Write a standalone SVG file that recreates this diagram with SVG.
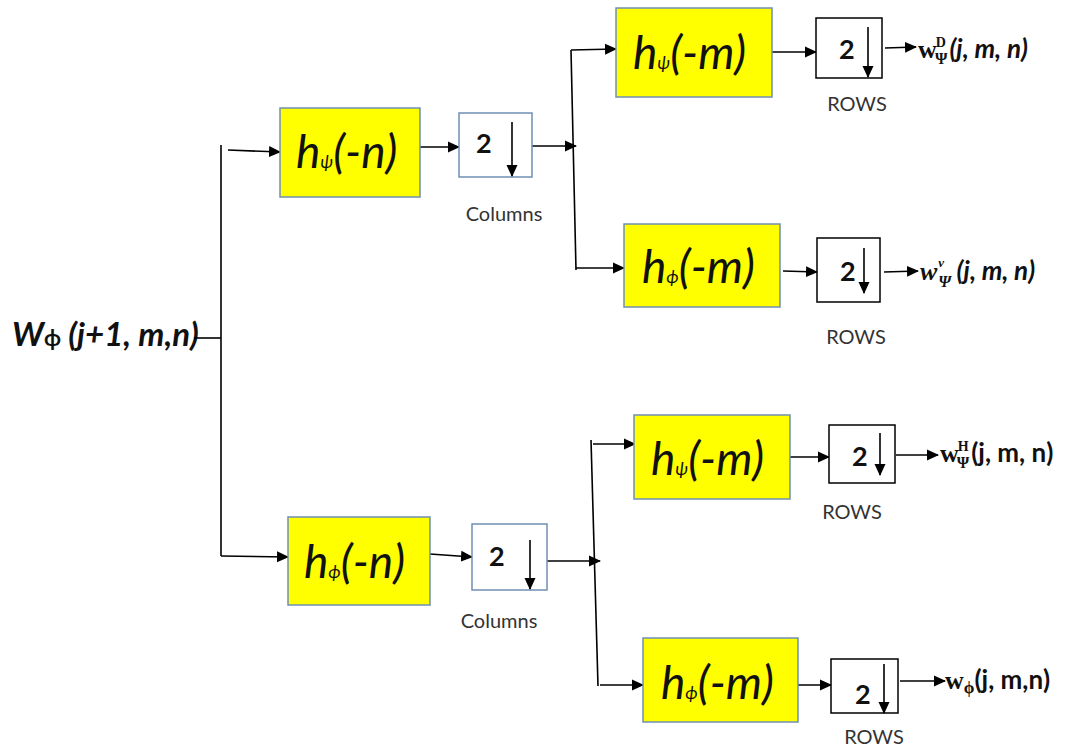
<svg xmlns="http://www.w3.org/2000/svg" width="1067" height="749" viewBox="0 0 1067 749">
<defs>
<marker id="ah" markerUnits="userSpaceOnUse" markerWidth="12" markerHeight="12" viewBox="0 0 12 12" refX="11" refY="6" orient="auto">
<path d="M0,0.5 L12,6 L0,11.5 Z" fill="#000"/>
</marker>
<style>
.filt{fill:#ffff00;stroke:#6f8fb3;stroke-width:1.5}
.colb{fill:#fff;stroke:#6f8fb3;stroke-width:1.5}
.rowb{fill:#fff;stroke:#000;stroke-width:1.5}
.ln{fill:none;stroke:#000;stroke-width:1.6}
.ar{fill:none;stroke:#000;stroke-width:1.6;marker-end:url(#ah)}
.ft{font-family:Lato,"Liberation Sans",sans-serif;font-style:italic;font-size:46px;fill:#111}
.sub{font-size:18px}
.two{font-family:Lato,"Liberation Sans",sans-serif;font-weight:bold;font-size:27px;fill:#111}
.lab{font-family:Lato,"Liberation Sans",sans-serif;font-size:20px;fill:#333;text-anchor:middle}
.out{font-family:Lato,"Liberation Sans",sans-serif;font-weight:bold;font-style:italic;font-size:26px;fill:#111}
.up{font-style:normal}
.ser{font-family:"Liberation Serif",serif;font-weight:bold;font-style:normal}
.seri{font-family:"Liberation Serif",serif;font-weight:bold;font-style:italic}
</style>
</defs>

<g id="input">
<text x="12" y="346" font-family="Lato,'Liberation Sans',sans-serif" font-weight="bold" font-style="italic" font-size="33" fill="#111">W<tspan font-size="22" font-style="normal">ϕ</tspan><tspan> (j+1, m,n)</tspan></text>
</g>

<g id="connectors">
<line class="ln" x1="194" y1="338" x2="221" y2="338"/>
<line class="ln" x1="221" y1="145" x2="221" y2="556"/>
<line class="ar" x1="228" y1="150" x2="280" y2="152"/>
<line class="ar" x1="221" y1="556" x2="288" y2="557"/>
<line class="ar" x1="420" y1="147" x2="459" y2="147"/>
<line class="ar" x1="532" y1="146" x2="576" y2="146"/>
<line class="ln" x1="571" y1="50" x2="576" y2="270"/>
<line class="ar" x1="571" y1="50" x2="616" y2="49"/>
<line class="ar" x1="576" y1="268" x2="624" y2="268"/>
<line class="ar" x1="772" y1="52" x2="816" y2="52"/>
<line class="ar" x1="885" y1="48" x2="916" y2="47"/>
<line class="ar" x1="783" y1="271" x2="817" y2="272"/>
<line class="ar" x1="884" y1="272" x2="918" y2="271"/>
<line class="ar" x1="430" y1="554" x2="472" y2="557"/>
<line class="ar" x1="547" y1="561" x2="600" y2="561"/>
<line class="ln" x1="591" y1="440" x2="598" y2="686"/>
<line class="ar" x1="593" y1="444" x2="635" y2="444"/>
<line class="ar" x1="600" y1="685" x2="643" y2="685"/>
<line class="ar" x1="790" y1="457" x2="829" y2="457"/>
<line class="ar" x1="896" y1="455" x2="938" y2="455"/>
<line class="ar" x1="797" y1="685" x2="831" y2="685"/>
<line class="ar" x1="900" y1="681" x2="945" y2="681"/>
</g>

<g id="h_psi_n">
<rect class="filt" x="280" y="108" width="140" height="89"/>
<text class="ft" x="296" y="168">h<tspan class="sub">ψ</tspan>(-n)</text>
</g>
<g id="col_top">
<rect class="colb" x="459" y="113" width="73" height="64"/>
<text class="two" x="476" y="153">2</text>
<line class="ar" x1="512" y1="122" x2="512" y2="176"/>
<text class="lab" x="504" y="221">Columns</text>
</g>

<g id="h_psi_m_top">
<rect class="filt" x="616" y="8" width="156" height="89"/>
<text class="ft" x="633" y="69">h<tspan class="sub">ψ</tspan>(-m)</text>
</g>
<g id="rows_D">
<rect class="rowb" x="816" y="18" width="66" height="60"/>
<text class="two" x="839" y="59">2</text>
<line class="ar" x1="868" y1="27" x2="868" y2="77"/>
<text class="lab" x="857" y="111">ROWS</text>
</g>
<g id="out_D">
<text class="out" x="918" y="58"><tspan class="ser">w</tspan><tspan class="ser" font-size="14" dx="-1" dy="-11">D</tspan><tspan class="ser" font-size="16" dx="-11" dy="17">Ψ</tspan><tspan dx="2" dy="-6">(j, m, n)</tspan></text>
</g>

<g id="h_phi_m_top">
<rect class="filt" x="624" y="224" width="156" height="83"/>
<text class="ft" x="642" y="283">h<tspan class="sub">ϕ</tspan>(-m)</text>
</g>
<g id="rows_V">
<rect class="rowb" x="817" y="238" width="63" height="64"/>
<text class="two" x="840" y="281">2</text>
<line class="ar" x1="864" y1="248" x2="864" y2="293"/>
<text class="lab" x="856" y="344">ROWS</text>
</g>
<g id="out_V">
<text class="out" x="920" y="280"><tspan class="seri">w</tspan><tspan class="seri" font-size="13" dx="1" dy="-13">v</tspan><tspan class="seri" font-size="16" dx="-6" dy="20">Ψ</tspan><tspan dy="-7"> (j, m, n)</tspan></text>
</g>

<g id="h_phi_n">
<rect class="filt" x="288" y="517" width="142" height="88"/>
<text class="ft" x="304" y="578">h<tspan class="sub">ϕ</tspan>(-n)</text>
</g>
<g id="col_bot">
<rect class="colb" x="472" y="524" width="75" height="66"/>
<text class="two" x="489" y="566">2</text>
<line class="ar" x1="530" y1="540" x2="530" y2="589"/>
<text class="lab" x="499" y="628">Columns</text>
</g>

<g id="h_psi_m_bot">
<rect class="filt" x="634" y="415" width="156" height="84"/>
<text class="ft" x="651" y="475">h<tspan class="sub">ψ</tspan>(-m)</text>
</g>
<g id="rows_H">
<rect class="rowb" x="829" y="425" width="66" height="58"/>
<text class="two" x="852" y="466">2</text>
<line class="ar" x1="880" y1="433" x2="880" y2="475"/>
<text class="lab" x="852" y="519">ROWS</text>
</g>
<g id="out_H">
<text class="out up" x="940" y="462"><tspan class="ser">w</tspan><tspan class="ser" font-size="14" dx="-1" dy="-11">H</tspan><tspan class="ser" font-size="16" dx="-12" dy="17">Ψ</tspan><tspan dx="2" dy="-6">(j, m, n)</tspan></text>
</g>

<g id="h_phi_m_bot">
<rect class="filt" x="643" y="638" width="155" height="84"/>
<text class="ft" x="661" y="699">h<tspan class="sub">ϕ</tspan>(-m)</text>
</g>
<g id="rows_A">
<rect class="rowb" x="831" y="659" width="67" height="54"/>
<text class="two" x="855" y="704">2</text>
<line class="ar" x1="884" y1="664" x2="884" y2="713"/>
<text class="lab" x="874" y="744">ROWS</text>
</g>
<g id="out_A">
<text class="out up" x="945" y="689"><tspan class="ser">w</tspan><tspan class="ser" font-size="17" dy="4">ϕ</tspan><tspan dy="-4">(j, m,n)</tspan></text>
</g>
</svg>
